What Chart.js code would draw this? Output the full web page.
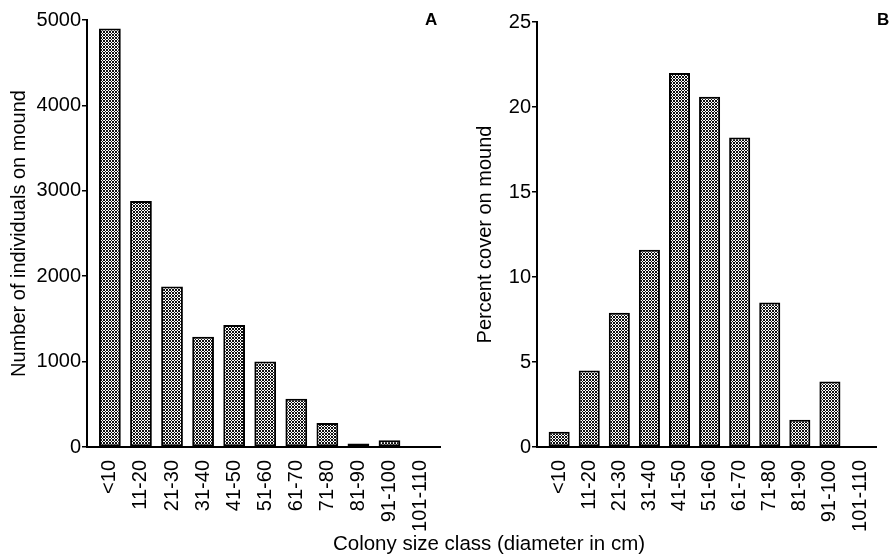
<!DOCTYPE html>
<html>
<head>
<meta charset="utf-8">
<script src="https://cdn.jsdelivr.net/npm/chart.js@4/dist/chart.umd.min.js"></script>
<style>
  html, body { margin: 0; padding: 0; background: #fff; }
  #wrap { position: relative; width: 889px; height: 559px; overflow: hidden; font-family: "Liberation Sans", Arial, sans-serif; }
  canvas { position: absolute; top: 0; }
  #cA { left: 0; }
  #cB { left: 450px; }
  .panel { position: absolute; font-weight: bold; font-size: 17px; line-height: 20px; color: #000; }
  #xtitle { position: absolute; left: 0; width: 978px; text-align: center; top: 531px; font-size: 20.5px; line-height: 24px; color: #000; }
</style>
</head>
<body>
<div id="wrap">
  <canvas id="cA" width="450" height="559"></canvas>
  <canvas id="cB" width="439" height="559"></canvas>
  <div class="panel" style="left:425px; top:10px;">A</div>
  <div class="panel" style="left:877px; top:10px;">B</div>
  <div id="xtitle">Colony size class (diameter in cm)</div>
</div>
<script>
const categories = ['<10','11-20','21-30','31-40','41-50','51-60','61-70','71-80','81-90','91-100','101-110'];
const individuals = [4900, 2880, 1880, 1290, 1430, 1000, 565, 280, 40, 80, 0];
const percentCover = [0.9, 4.5, 7.9, 11.6, 22.0, 20.6, 18.2, 8.5, 1.6, 3.85, 0];
const ticksA = [0, 1000, 2000, 3000, 4000, 5000];
const ticksB = [0, 5, 10, 15, 20, 25];

function makePattern() {
  const c = document.createElement('canvas');
  c.width = 3; c.height = 3;
  const x = c.getContext('2d');
  x.fillStyle = '#fff';
  x.fillRect(0, 0, 3, 3);
  x.fillStyle = '#111';
  for (let i = 0; i < 3; i++) for (let j = 0; j < 3; j++) {
    if ((i + j) % 3 === 0 || (i - j + 3) % 3 === 0) x.fillRect(i, j, 1, 1);
  }
  return c;
}

const FONT = "'Liberation Sans', Arial, sans-serif";

function build(canvasId, values, yTicks, yTitle, padTop, padRight, titlePad, xMax) {
  const ctx = document.getElementById(canvasId).getContext('2d');
  const pattern = ctx.createPattern(makePattern(), 'repeat');
  return new Chart(ctx, {
    type: 'bar',
    data: {
      datasets: [{
        data: values.map((v, i) => ({ x: i, y: v })),
        backgroundColor: pattern,
        borderColor: '#000',
        borderWidth: 2,
        borderSkipped: false,
        barPercentage: 0.7,
        categoryPercentage: 1.0
      }]
    },
    options: {
      responsive: false,
      animation: false,
      devicePixelRatio: 1,
      layout: { padding: { top: padTop, right: padRight, left: 0, bottom: 0 } },
      plugins: { legend: { display: false }, tooltip: { enabled: false } },
      scales: {
        x: {
          type: 'linear',
          offset: false,
          min: -0.737,
          max: xMax,
          afterBuildTicks: (s) => { s.ticks = categories.map((_, i) => ({ value: i })); },
          afterFit: (s) => { s.height = 112; },
          grid: { display: false },
          border: { display: true, color: '#000', width: 2 },
          ticks: {
            autoSkip: false,
            minRotation: 90,
            maxRotation: 90,
            padding: 5,
            color: '#000',
            font: { family: FONT, size: 20 },
            callback: (v) => categories[v]
          }
        },
        y: {
          min: yTicks[0],
          max: yTicks[yTicks.length - 1],
          afterBuildTicks: (s) => { s.ticks = yTicks.map(v => ({ value: v })); },
          afterFit: (s) => { s.width = 87; },
          grid: { display: true, drawOnChartArea: false, drawTicks: true, tickLength: 5, color: '#000', lineWidth: 1.5 },
          border: { display: true, color: '#000', width: 2 },
          ticks: {
            padding: 1,
            color: '#000',
            font: { family: FONT, size: 20 },
            callback: (v) => String(v)
          },
          title: {
            display: true,
            text: yTitle,
            color: '#000',
            font: { family: FONT, size: 20 },
            padding: titlePad
          }
        }
      }
    }
  });
}

build('cA', individuals, ticksA, 'Number of individuals on mound', 20, 8, { top: 7, bottom: 0 }, 10.65);
build('cB', percentCover, ticksB, 'Percent cover on mound', 22, 0, { top: 23, bottom: 0 }, 10.55);
</script>
</body>
</html>
